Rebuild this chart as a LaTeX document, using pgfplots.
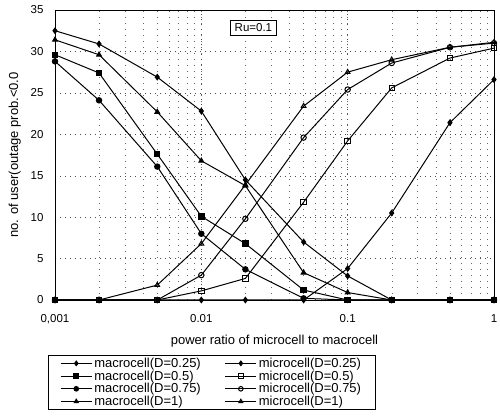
\documentclass[border=0pt]{standalone}
\usepackage{pgfplots}
\pgfplotsset{compat=1.18}
\usepackage{fontspec}
\setmainfont{Liberation Sans}
\begin{document}
\begin{tikzpicture}[x=1pt,y=1pt]
\begin{semilogxaxis}[
  scale only axis, width=439pt, height=290pt,
  xmin=0.001, xmax=1, ymin=0, ymax=35,
  xtick={0.001,0.01,0.1,1},
  xticklabels={{0,001},0.01,0.1,1},
  ytick={0,5,...,35},
  /pgf/number format/assume math mode=true,
  tick label style={font=\fontsize{11.5}{13}\selectfont},
  xticklabel style={yshift=-11pt},
  yticklabel style={xshift=-8pt},
  label style={font=\fontsize{13}{15}\selectfont},
  xlabel={power ratio of microcell to macrocell},
  ylabel={no. of user(outage prob.<0.0},
  xlabel style={yshift=-4pt},
  ylabel style={yshift=3pt},
  grid=both,
  major grid style={black!70, dash pattern=on 1pt off 4pt},
  minor grid style={black!60, dash pattern=on 1pt off 5pt},
  minor y tick num=0,
  major tick length=0pt, minor tick length=0pt,
  axis line style={black, line width=0.8pt},
  every axis plot/.append style={black, line width=1pt, mark size=2.7pt},
  legend columns=2,
  legend style={at={(-0.016,-0.19)}, anchor=north west, font=\fontsize{13}{15}\selectfont,
    draw=black, line width=0.6pt, inner xsep=12pt, inner ysep=0.5pt, row sep=-2.2pt,
    /tikz/every even column/.append style={column sep=22pt}},
  legend cell align=left,
  legend image code/.code={\draw[mark repeat=2,mark phase=2, mark size=2.3pt] plot coordinates {(0pt,0pt)(15.5pt,0pt)(31pt,0pt)};},
]
\addplot[mark=diamond*] coordinates {(0.001,32.5)(0.002,30.9)(0.005,26.9)(0.01,22.8)(0.02,14.5)(0.05,7.0)(0.1,2.9)(0.2,0)(0.5,0)(1,0)};
\addlegendentry{macrocell(D=0.25)}
\addplot[mark=diamond*] coordinates {(0.001,0)(0.002,0)(0.005,0)(0.01,0)(0.02,0)(0.05,0)(0.1,3.8)(0.2,10.5)(0.5,21.4)(1,26.6)};
\addlegendentry{microcell(D=0.25)}
\addplot[mark=square*] coordinates {(0.001,29.6)(0.002,27.4)(0.005,17.6)(0.01,10.1)(0.02,6.8)(0.05,1.2)(0.1,0)(0.2,0)(0.5,0)(1,0)};
\addlegendentry{macrocell(D=0.5)}
\addplot[mark=square, mark options={fill=white}] coordinates {(0.001,0)(0.002,0)(0.005,0)(0.01,1.1)(0.02,2.6)(0.05,11.8)(0.1,19.2)(0.2,25.6)(0.5,29.2)(1,30.4)};
\addlegendentry{microcell(D=0.5)}
\addplot[mark=*] coordinates {(0.001,28.8)(0.002,24.1)(0.005,16.1)(0.01,8.0)(0.02,3.7)(0.05,0.2)(0.1,0)(0.2,0)(0.5,0)(1,0)};
\addlegendentry{macrocell(D=0.75)}
\addplot[mark=o] coordinates {(0.001,0)(0.002,0)(0.005,0)(0.01,3.0)(0.02,9.8)(0.05,19.6)(0.1,25.4)(0.2,28.6)(0.5,30.5)(1,31.0)};
\addlegendentry{microcell(D=0.75)}
\addplot[mark=triangle*] coordinates {(0.001,31.4)(0.002,29.6)(0.005,22.7)(0.01,16.8)(0.02,13.8)(0.05,3.3)(0.1,0.9)(0.2,0)(0.5,0)(1,0)};
\addlegendentry{macrocell(D=1)}
\addplot[mark=triangle] coordinates {(0.001,0)(0.002,0)(0.005,1.8)(0.01,6.8)(0.02,13.9)(0.05,23.4)(0.1,27.5)(0.2,29.0)(0.5,30.5)(1,31.1)};
\addlegendentry{microcell(D=1)}
\node[draw=black, line width=0.6pt, fill=white, inner xsep=4pt, inner ysep=3.5pt, font=\fontsize{11.5}{13}\selectfont] at (axis cs:0.0227,32.9) {Ru=0.1};
\end{semilogxaxis}
\pgfresetboundingbox
\useasboundingbox ([shift={(-55pt,-117pt)}]current axis.south west) rectangle ([shift={(445pt,300pt)}]current axis.south west);
\end{tikzpicture}
\end{document}
